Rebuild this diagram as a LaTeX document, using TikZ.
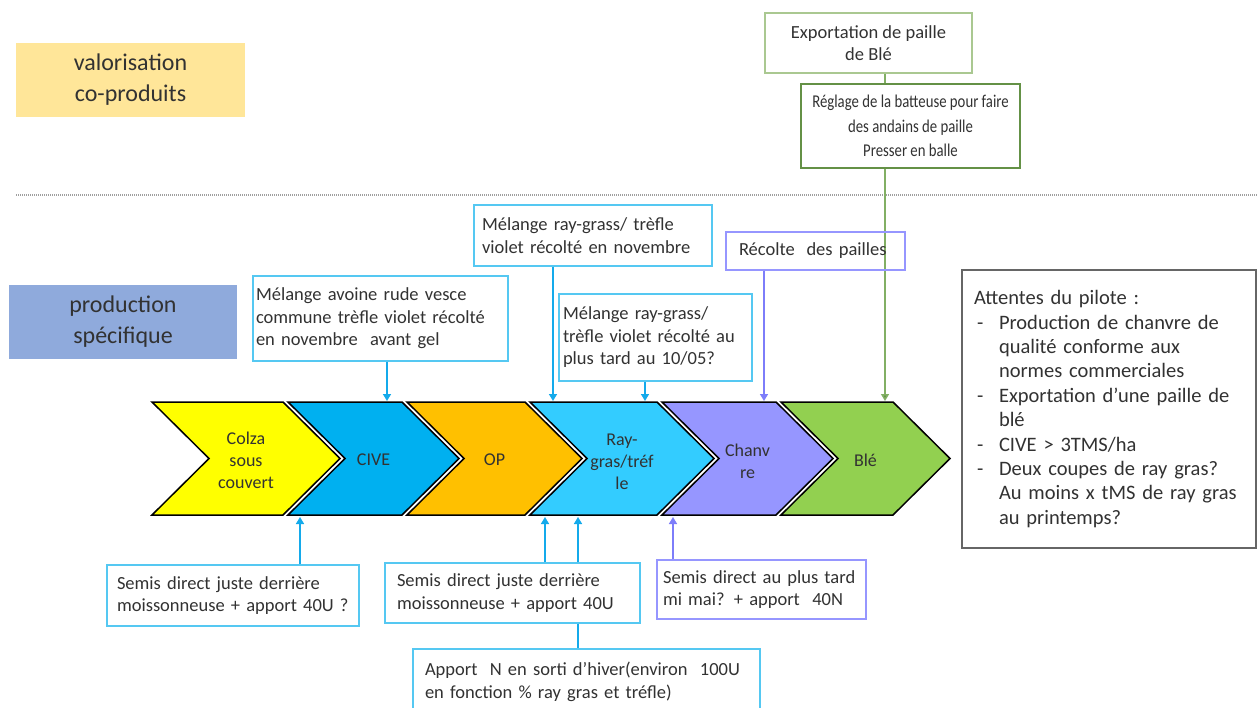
\documentclass[tikz,border=0pt]{standalone}
\usepackage{fontspec}
\setmainfont{Carlito}
\newfontfamily\condfont[FakeStretch=0.82]{Carlito}
\usetikzlibrary{arrows.meta}
\definecolor{cyanB}{RGB}{85,200,242}
\definecolor{cyanA}{RGB}{20,170,235}
\definecolor{lavB}{RGB}{150,150,255}
\definecolor{lavA}{RGB}{125,125,250}
\definecolor{grnL}{RGB}{170,200,145}
\definecolor{grnD}{RGB}{100,145,70}
\definecolor{grnA}{RGB}{130,175,100}
\definecolor{valoF}{RGB}{255,230,153}
\definecolor{prodF}{RGB}{143,170,220}
\definecolor{cColza}{RGB}{255,255,0}
\definecolor{cCive}{RGB}{0,176,240}
\definecolor{cOP}{RGB}{255,192,0}
\definecolor{cRay}{RGB}{51,204,255}
\definecolor{cChan}{RGB}{150,150,255}
\definecolor{cBle}{RGB}{146,208,80}
\definecolor{txt}{RGB}{50,50,50}
\newcommand{\fsbox}{\fontsize{18.5}{22.5}\selectfont}
\newcommand{\attB}{\makebox[25pt][l]{\hspace{3pt}-}}
\newcommand{\attI}{\hspace*{25pt}}
\tikzset{
  cbox/.style={draw=cyanB, line width=1.5pt, font=\fsbox, text=txt, align=left, inner sep=0pt},
  lbox/.style={draw=lavB, line width=1.5pt, font=\fsbox, text=txt, align=left, inner sep=0pt},
  chev/.style={draw=black, line width=1.5pt, line join=miter},
  chevtxt/.style={font=\fontsize{18}{22}\selectfont, text=txt, align=center, inner sep=0pt},
  carr/.style={draw=cyanA, line width=1.5pt, -{Triangle[length=7pt,width=8pt]}},
  larr/.style={draw=lavA, line width=1.5pt, -{Triangle[length=7pt,width=8pt]}},
  garr/.style={draw=grnA, line width=1.5pt, -{Triangle[length=7pt,width=8pt, fill=grnD]}},
}
\begin{document}
\begin{tikzpicture}[x=1pt,y=-1pt]
\useasboundingbox (0,0) rectangle (1258,708);
\clip (0,0) rectangle (1258,708);
\fill[white] (0,0) rectangle (1258,708);

% category labels
\node[fill=valoF, minimum width=229pt, minimum height=74pt, inner sep=0pt, align=center,
      font=\fontsize{24}{31}\selectfont, text=txt] (valo) at (130.5,80) {valorisation\\co-produits};
\node[fill=prodF, minimum width=228pt, minimum height=74pt, inner sep=0pt, align=center,
      font=\fontsize{24}{31}\selectfont, text=txt] (prod) at (123,322) {production\\spécifique};

% separator
\coordinate (sepL) at (16,195);
\coordinate (sepR) at (1258,195);
\draw[gray!75, line width=1.3pt, dash pattern=on 1pt off 1pt] (sepL) -- (sepR);

% chevrons
\path[chev, fill=cColza] (152,402) -- (283,402) -- (340,458.5) -- (283,515) -- (152,515) -- (209,458.5) -- cycle;
\path[chev, fill=cCive] (288,402) -- (402,402) -- (459,458.5) -- (402,515) -- (288,515) -- (345,458.5) -- cycle;
\path[chev, fill=cOP] (407,402) -- (525,402) -- (582,458.5) -- (525,515) -- (407,515) -- (464,458.5) -- cycle;
\path[chev, fill=cRay] (530,402) -- (657,402) -- (714,458.5) -- (657,515) -- (530,515) -- (587,458.5) -- cycle;
\path[chev, fill=cChan] (662,402) -- (776,402) -- (833,458.5) -- (776,515) -- (662,515) -- (719,458.5) -- cycle;
\path[chev, fill=cBle] (781,402) -- (893,402) -- (950,458.5) -- (893,515) -- (781,515) -- (838,458.5) -- cycle;

\node[chevtxt] (colza) at (246,460) {Colza\\sous\\couvert};
\node[chevtxt] (cive) at (373.5,460) {CIVE};
\node[chevtxt] (op) at (494.5,460) {OP};
\node[chevtxt] (ray) at (622,462) {Ray-\\gras/tréf\\le};
\node[chevtxt] (chanvre) at (747.5,461) {Chanv\\re};
\node[chevtxt] (ble) at (865.5,460) {Blé};

% targets on chevrons
\coordinate (tCive) at (387,401);
\coordinate (tRay1) at (553,401);
\coordinate (tRay2) at (645,401);
\coordinate (tChan) at (764,401);
\coordinate (tBle) at (885,401);
\coordinate (bColza) at (300,517);
\coordinate (bRay1) at (545,517);
\coordinate (bRay2) at (578,517);
\coordinate (bChan) at (673,517);

% top green boxes
\node[draw=grnL, line width=1.3pt, minimum width=207pt, minimum height=60pt, inner sep=0pt,
      align=center, font=\fsbox, text=txt] (expo) at (868.5,43) {Exportation de paille\\de Blé};
\node[draw=grnD, line width=1.5pt, minimum width=219pt, minimum height=84pt, inner sep=0pt,
      align=center, font=\condfont\fontsize{18}{24.5}\selectfont, text=txt] (regl) at (910.5,126) {Réglage de la batteuse pour faire\\des andains de paille\\Presser en balle};
\draw[grnA, line width=1.5pt] (expo.south -| tBle) -- (regl.north -| tBle);
\draw[garr] (regl.south -| tBle) -- (tBle);

% upper boxes
\node[cbox, minimum width=255pt, minimum height=85pt, text width=249pt] (m1) at (380.5,318.5)
  {Mélange avoine rude vesce\\commune trèfle violet récolté\\en novembre\ \ avant gel};
\node[cbox, minimum width=238pt, minimum height=61pt, text width=222pt] (m2) at (593,235.5)
  {Mélange ray-grass/ trèfle\\violet récolté en novembre};
\node[cbox, minimum width=193pt, minimum height=87pt, text width=185pt] (m3) at (655.5,337.5)
  {Mélange ray-grass/\\trèfle violet récolté au\\plus tard au 10/05?};
\node[lbox, minimum width=179pt, minimum height=38pt, text width=153pt] (rec) at (815.5,251)
  {Récolte\hspace{0.3em} des pailles};

\draw[carr] (m1.south -| tCive) -- (tCive);
\draw[carr] (m2.south -| tRay1) -- (tRay1);
\draw[carr] (m3.south -| tRay2) -- (tRay2);
\draw[larr] (rec.south -| tChan) -- (tChan);

% lower boxes
\node[cbox, minimum width=252pt, minimum height=61pt, text width=232pt] (s1) at (233,595.5)
  {Semis direct juste derrière\\moissonneuse + apport 40U ?};
\node[cbox, minimum width=255pt, minimum height=60pt, text width=231pt] (s2) at (512.5,593)
  {Semis direct juste derrière\\moissonneuse + apport 40U};
\node[cbox, minimum width=347pt, minimum height=66pt, text width=323pt] (s3) at (586.5,682)
  {Apport\ \ N en sorti d’hiver(environ\ \ 100U\\en fonction \% ray gras et tréfle)};
\node[lbox, minimum width=209pt, minimum height=59pt, text width=197pt] (s4) at (761.5,589.5)
  {Semis direct au plus tard\\mi mai? + apport\ \ 40N};

\draw[carr] (s1.north -| bColza) -- (bColza);
\draw[carr] (s2.north -| bRay1) -- (bRay1);
\draw[carr] (s2.north -| bRay2) -- (bRay2);
\draw[cyanA, line width=1.5pt] (s2.south -| bRay2) -- (s3.north -| bRay2);
\draw[larr] (s4.north -| bChan) -- (bChan);

% expectations box
\node[draw=black!60, line width=1.5pt, minimum width=294pt, minimum height=278pt, text width=270pt,
      inner sep=0pt, align=left, font=\fontsize{20.5}{24.4}\selectfont, text=txt] (att) at (1109,409)
  {Attentes du pilote :\\
   \attB Production de chanvre de\\
   \attI qualité conforme aux\\
   \attI normes commerciales\\
   \attB Exportation d’une paille de\\
   \attI blé\\
   \attB CIVE > 3TMS/ha\\
   \attB Deux coupes de ray gras?\\
   \attI Au moins x tMS de ray gras\\
   \attI au printemps?};
\end{tikzpicture}
\end{document}
